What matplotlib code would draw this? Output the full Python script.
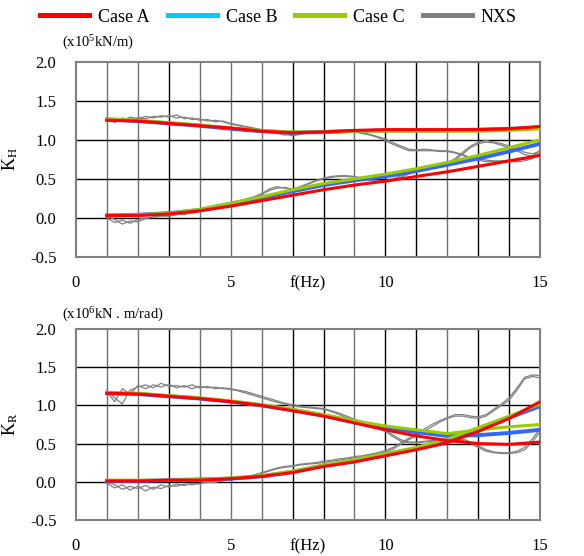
import numpy as np
import matplotlib
matplotlib.use('Agg')
import matplotlib.pyplot as plt
from matplotlib.lines import Line2D

plt.rcParams['font.family'] = ['Liberation Serif', 'DejaVu Serif']
plt.rcParams['mathtext.fontset'] = 'custom'
plt.rcParams['mathtext.rm'] = 'Liberation Serif'
plt.rcParams['mathtext.it'] = 'Liberation Serif'
plt.rcParams['mathtext.default'] = 'regular'

# frequencies (Hz)
f_case = [1, 2, 3, 4, 5, 6, 7, 8, 9, 10, 11, 12, 13, 14, 15]
f_nxs = np.linspace(1, 15, 57)

# ---- K_H (x10^5 kN/m) ----
kh_re_a = [1.25, 1.24, 1.21, 1.18, 1.15, 1.11, 1.09, 1.10, 1.12, 1.13, 1.13, 1.13, 1.13, 1.14, 1.17]
kh_re_b = [1.26, 1.24, 1.21, 1.18, 1.14, 1.11, 1.09, 1.10, 1.11, 1.12, 1.12, 1.12, 1.13, 1.14, 1.16]
kh_re_c = [1.27, 1.25, 1.22, 1.19, 1.15, 1.12, 1.10, 1.10, 1.11, 1.11, 1.11, 1.11, 1.11, 1.12, 1.14]
kh_im_a = [0.03, 0.03, 0.05, 0.09, 0.15, 0.22, 0.29, 0.36, 0.42, 0.47, 0.53, 0.59, 0.66, 0.73, 0.80]
kh_im_b = [0.03, 0.04, 0.06, 0.10, 0.18, 0.26, 0.34, 0.42, 0.48, 0.53, 0.60, 0.68, 0.76, 0.85, 0.95]
kh_im_c = [0.03, 0.04, 0.06, 0.11, 0.19, 0.27, 0.36, 0.44, 0.50, 0.56, 0.63, 0.71, 0.80, 0.90, 1.00]

kh_re_nxs1 = [1.27, 1.22, 1.28, 1.26, 1.28, 1.27, 1.30, 1.29, 1.31, 1.28, 1.29, 1.26, 1.27, 1.24,
              1.25, 1.23, 1.20, 1.18, 1.16, 1.14, 1.12, 1.10, 1.08, 1.06, 1.07, 1.09, 1.11, 1.10,
              1.09, 1.10, 1.11, 1.11, 1.10, 1.08, 1.06, 1.03, 0.99, 0.94, 0.90, 0.86, 0.86, 0.86,
              0.86, 0.85, 0.85, 0.83, 0.80, 0.76, 0.74, 0.72, 0.72, 0.72, 0.72, 0.72, 0.73, 0.76, 0.84]
kh_re_nxs2 = [1.25, 1.26, 1.24, 1.29, 1.27, 1.30, 1.28, 1.31, 1.29, 1.32, 1.27, 1.28, 1.25, 1.26,
              1.23, 1.24, 1.21, 1.19, 1.17, 1.15, 1.13, 1.11, 1.09, 1.08, 1.05, 1.07, 1.09, 1.11,
              1.11, 1.12, 1.12, 1.12, 1.11, 1.09, 1.07, 1.04, 1.01, 0.96, 0.92, 0.88, 0.87, 0.88,
              0.87, 0.86, 0.86, 0.84, 0.81, 0.77, 0.75, 0.74, 0.73, 0.73, 0.74, 0.74, 0.75, 0.79, 0.87]
kh_im_nxs1 = [0.00, -0.06, -0.03, -0.07, -0.02, 0.00, 0.01, 0.02, 0.03, 0.05, 0.04, 0.07, 0.09, 0.11,
              0.13, 0.16, 0.19, 0.21, 0.24, 0.27, 0.31, 0.37, 0.40, 0.38, 0.37, 0.40, 0.44, 0.48,
              0.51, 0.53, 0.54, 0.54, 0.53, 0.51, 0.49, 0.47, 0.47, 0.50, 0.54, 0.57, 0.60, 0.63,
              0.66, 0.68, 0.70, 0.76, 0.84, 0.92, 0.97, 0.99, 0.97, 0.95, 0.92, 0.88, 0.84, 0.82, 0.85]
kh_im_nxs2 = [0.02, -0.02, -0.08, -0.04, -0.05, -0.01, 0.01, 0.03, 0.02, 0.04, 0.06, 0.06, 0.08, 0.10,
              0.12, 0.15, 0.18, 0.20, 0.23, 0.26, 0.30, 0.35, 0.38, 0.39, 0.36, 0.39, 0.43, 0.47,
              0.50, 0.52, 0.53, 0.53, 0.52, 0.50, 0.48, 0.46, 0.46, 0.48, 0.52, 0.56, 0.59, 0.62,
              0.65, 0.67, 0.69, 0.74, 0.82, 0.90, 0.95, 0.97, 0.96, 0.93, 0.90, 0.86, 0.81, 0.79, 0.82]

# ---- K_R (x10^6 kN.m/rad) ----
kr_re_a = [1.16, 1.15, 1.12, 1.09, 1.05, 1.00, 0.93, 0.86, 0.77, 0.68, 0.60, 0.54, 0.50, 0.49, 0.52]
kr_re_b = [1.16, 1.15, 1.12, 1.09, 1.05, 1.00, 0.94, 0.87, 0.79, 0.71, 0.65, 0.60, 0.61, 0.64, 0.68]
kr_re_c = [1.17, 1.16, 1.13, 1.10, 1.06, 1.01, 0.95, 0.88, 0.80, 0.73, 0.68, 0.63, 0.68, 0.72, 0.75]
kr_im_a = [0.01, 0.01, 0.02, 0.02, 0.04, 0.07, 0.12, 0.20, 0.26, 0.34, 0.42, 0.51, 0.66, 0.83, 1.05]
kr_im_b = [0.01, 0.01, 0.02, 0.03, 0.04, 0.07, 0.13, 0.21, 0.27, 0.35, 0.43, 0.53, 0.68, 0.84, 0.99]
kr_im_c = [0.02, 0.02, 0.02, 0.03, 0.05, 0.08, 0.14, 0.22, 0.29, 0.37, 0.45, 0.56, 0.71, 0.86, 1.02]

kr_re_nxs1 = [1.18, 1.05, 1.22, 1.15, 1.26, 1.22, 1.27, 1.24, 1.28, 1.23, 1.26, 1.22, 1.25, 1.23,
              1.24, 1.22, 1.21, 1.19, 1.16, 1.13, 1.10, 1.07, 1.04, 1.02, 0.99, 0.98, 0.97, 0.96,
              0.95, 0.92, 0.88, 0.84, 0.80, 0.77, 0.74, 0.70, 0.66, 0.59, 0.53, 0.51, 0.51, 0.52,
              0.53, 0.54, 0.55, 0.55, 0.54, 0.50, 0.45, 0.40, 0.38, 0.37, 0.37, 0.38, 0.42, 0.52, 0.66]
kr_re_nxs2 = [1.20, 1.10, 1.02, 1.20, 1.24, 1.27, 1.23, 1.29, 1.25, 1.26, 1.24, 1.27, 1.23, 1.25,
              1.22, 1.23, 1.22, 1.20, 1.18, 1.15, 1.12, 1.09, 1.06, 1.03, 1.01, 0.99, 0.98, 0.97,
              0.96, 0.93, 0.90, 0.86, 0.82, 0.78, 0.75, 0.71, 0.68, 0.61, 0.55, 0.52, 0.52, 0.53,
              0.54, 0.55, 0.56, 0.57, 0.56, 0.52, 0.47, 0.42, 0.39, 0.38, 0.38, 0.40, 0.45, 0.56, 0.70]
kr_im_nxs1 = [-0.02, -0.08, -0.04, -0.11, -0.06, -0.12, -0.07, -0.09, -0.05, -0.06, -0.03, -0.04, -0.02, -0.01,
              0.00, 0.01, 0.03, 0.05, 0.07, 0.09, 0.11, 0.14, 0.17, 0.19, 0.20, 0.22, 0.23, 0.24,
              0.25, 0.27, 0.28, 0.30, 0.31, 0.33, 0.35, 0.37, 0.39, 0.43, 0.49, 0.55, 0.60, 0.66,
              0.72, 0.78, 0.83, 0.86, 0.86, 0.84, 0.83, 0.86, 0.93, 1.00, 1.07, 1.20, 1.35, 1.38, 1.36]
kr_im_nxs2 = [0.00, -0.04, -0.10, -0.06, -0.09, -0.05, -0.10, -0.04, -0.07, -0.03, -0.05, -0.02, -0.03, 0.00,
              -0.01, 0.02, 0.02, 0.04, 0.06, 0.08, 0.12, 0.15, 0.18, 0.20, 0.21, 0.23, 0.24, 0.25,
              0.27, 0.28, 0.30, 0.31, 0.33, 0.34, 0.36, 0.38, 0.41, 0.45, 0.51, 0.57, 0.63, 0.69,
              0.75, 0.80, 0.84, 0.88, 0.88, 0.86, 0.85, 0.88, 0.95, 1.02, 1.10, 1.23, 1.37, 1.40, 1.39]

red = '#FF0000'
blue = '#3366FF'
cyan = '#00CCFF'
green = '#99CC00'
gray = '#808080'

fig = plt.figure(figsize=(5.84, 5.56), dpi=100)
ax1 = fig.add_axes([0.130, 0.538, 0.795, 0.351])
ax2 = fig.add_axes([0.130, 0.065, 0.795, 0.343])


def draw_panel(ax, nxs, case_b, case_c, case_a, ylab, unit, unit_y):
    # thin gray lines first, then the cases
    for y in nxs:
        ax.plot(f_nxs, y, color=gray, lw=0.9, zorder=3)
    for y in case_b:
        ax.plot(f_case, y, color=blue, lw=2.8, zorder=4)
    for y in case_c:
        ax.plot(f_case, y, color=green, lw=2.2, zorder=5)
    for y in case_a:
        ax.plot(f_case, y, color=red, lw=2.2, zorder=6)

    ax.set_xlim(0, 15)
    ax.set_ylim(-0.5, 2.0)
    ax.set_yticks([-0.5, 0.0, 0.5, 1.0, 1.5, 2.0])
    ax.set_yticklabels(['-0.5', '0.0', '0.5', '1.0', '1.5', '2.0'])
    ax.set_xticks([0, 5, 7.5, 10, 15])
    ax.set_xticklabels(['0', '5', 'f(Hz)', '10', '15'])
    ax.tick_params(axis='y', length=0, pad=14, labelsize=12)
    ax.tick_params(axis='x', length=0, pad=13, labelsize=12)

    for x in range(1, 15):
        c = '#707070' if x in (1, 2, 4, 5, 6, 9, 12) else 'black'
        ax.axvline(x, color=c, lw=1.0, zorder=1)
    for y in (0.0, 0.5, 1.0, 1.5):
        ax.axhline(y, color='black', lw=1.0, zorder=1)
    for s in ax.spines.values():
        s.set_color(gray)
        s.set_linewidth(1.5)

    ax.set_ylabel(ylab, fontsize=13, rotation=90)
    ax.yaxis.set_label_coords(-0.12, 0.5)
    ax.text(-0.03, unit_y, unit, transform=ax.transAxes, fontsize=10.5,
            ha='left', va='center')


draw_panel(ax1, [kh_re_nxs1, kh_re_nxs2, kh_im_nxs1, kh_im_nxs2],
           [kh_re_b, kh_im_b], [kh_re_c, kh_im_c], [kh_re_a, kh_im_a],
           'K$_{H}$', '(x10$^{5}$kN/m)', 1.097)
draw_panel(ax2, [kr_re_nxs1, kr_re_nxs2, kr_im_nxs1, kr_im_nxs2],
           [kr_re_b, kr_im_b], [kr_re_c, kr_im_c], [kr_re_a, kr_im_a],
           'K$_{R}$', '(x10$^{6}$kN . m/rad)', 1.073)

handles = [Line2D([], [], color=red, lw=3.6),
           Line2D([], [], color=cyan, lw=3.6),
           Line2D([], [], color=green, lw=3.6),
           Line2D([], [], color=gray, lw=3.6)]
fig.legend(handles, ['Case A', 'Case B', 'Case C', 'NXS'], loc='center',
           bbox_to_anchor=(0.477, 0.969), ncol=4, frameon=False, fontsize=13,
           handlelength=2.7, handletextpad=0.5, columnspacing=1.0)

fig.savefig('out.png', dpi=100)
